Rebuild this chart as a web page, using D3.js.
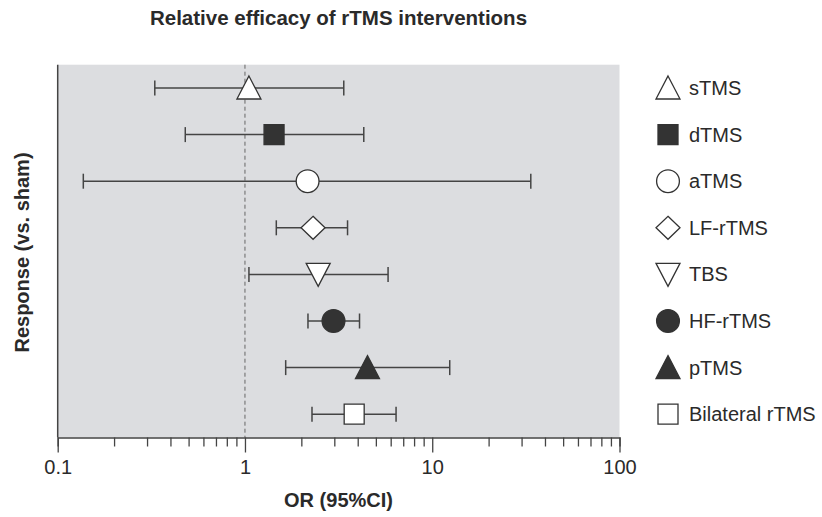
<!DOCTYPE html>
<html>
<head>
<meta charset="utf-8">
<script src="https://cdn.jsdelivr.net/npm/d3@7"></script>
<style>
  body { margin: 0; background: #fff; }
  svg { font-family: "Liberation Sans", Arial, Helvetica, sans-serif; }
</style>
</head>
<body>
<svg id="chart" width="822" height="517"></svg>
<script>
// Data
const treatments = ["sTMS", "dTMS", "aTMS", "LF-rTMS", "TBS", "HF-rTMS", "pTMS", "Bilateral rTMS"];
const oddsRatio = [1.05, 1.43, 2.16, 2.31, 2.46, 2.97, 4.51, 3.83];
const ciLower = [0.33, 0.48, 0.137, 1.47, 1.05, 2.17, 1.65, 2.28];
const ciUpper = [3.37, 4.31, 33.6, 3.53, 5.81, 4.09, 12.4, 6.41];
const markerShapes = ["triUp", "square", "circle", "diamond", "triDown", "circle", "triUp", "square"];
const markerFilled = [false, true, false, false, false, true, true, false];
const majorTicks = [0.1, 1, 10, 100];

const svg = d3.select("#chart");
const dark = "#333333";
const lineCol = "#444444";

const margin = { left: 57.7, right: 619.5, top: 64.7, bottom: 437.5 };

const x = d3.scaleLog().domain([0.1, 100]).range([margin.left, margin.right]);
const y = d3.scalePoint().domain(treatments).range([margin.top, margin.bottom]).padding(0.5);

// Function to build a marker path around (0,0)
function markerPath(shape) {
    const p = d3.path();
    if (shape === "triUp") {
        p.moveTo(0, -12); p.lineTo(12, 11); p.lineTo(-12, 11); p.closePath();
    } else if (shape === "triDown") {
        p.moveTo(0, 12); p.lineTo(12, -11); p.lineTo(-12, -11); p.closePath();
    } else if (shape === "square") {
        p.rect(-10, -10, 20, 20);
    } else if (shape === "circle") {
        p.arc(0, 0, 11.4, 0, 2 * Math.PI);
    } else if (shape === "diamond") {
        p.moveTo(0, -11.5); p.lineTo(12, 0); p.lineTo(0, 11.5); p.lineTo(-12, 0); p.closePath();
    }
    return p.toString();
}

// Plot background
svg.append("rect")
    .attr("x", margin.left)
    .attr("y", margin.top)
    .attr("width", margin.right - margin.left)
    .attr("height", margin.bottom - margin.top)
    .attr("fill", "#dcdde0");

// Reference line at OR = 1
svg.append("line")
    .attr("x1", x(1)).attr("x2", x(1))
    .attr("y1", margin.top).attr("y2", margin.bottom)
    .attr("stroke", "#666")
    .attr("stroke-width", 1)
    .attr("stroke-dasharray", "4,3");

// Bottom axis with minor ticks
const allTicks = [];
[0.1, 1, 10].forEach(d => {
    for (let k = 1; k < 10; k++) allTicks.push(+(d * k).toPrecision(3));
});
allTicks.push(100);

const xAxis = svg.append("g")
    .attr("transform", `translate(0,${margin.bottom})`)
    .call(d3.axisBottom(x)
        .tickValues(allTicks)
        .tickSize(9)
        .tickPadding(13)
        .tickFormat(d => majorTicks.includes(d) ? d3.format("")(d) : ""));

xAxis.select(".domain").attr("stroke", lineCol).attr("stroke-width", 1.5);
xAxis.selectAll(".tick line")
    .attr("stroke", lineCol)
    .attr("stroke-width", 1.3)
    .attr("y2", d => majorTicks.includes(d) ? 15 : 9);
xAxis.selectAll(".tick text")
    .attr("fill", "#2a2a2a")
    .style("font-size", "20px")
    .style("font-family", "'Liberation Sans', Arial, sans-serif");

// Left axis line
svg.append("line")
    .attr("x1", margin.left).attr("x2", margin.left)
    .attr("y1", margin.top).attr("y2", margin.bottom)
    .attr("stroke", lineCol)
    .attr("stroke-width", 1.5);

// Error bars
const rows = svg.selectAll(".row")
    .data(treatments)
    .enter()
    .append("g")
    .attr("class", "row");

rows.append("line")
    .attr("x1", (d, i) => x(ciLower[i]))
    .attr("x2", (d, i) => x(ciUpper[i]))
    .attr("y1", d => y(d))
    .attr("y2", d => y(d))
    .attr("stroke", lineCol)
    .attr("stroke-width", 1.5);

[ciLower, ciUpper].forEach(ci => {
    rows.append("line")
        .attr("x1", (d, i) => x(ci[i]))
        .attr("x2", (d, i) => x(ci[i]))
        .attr("y1", d => y(d) - 7.5)
        .attr("y2", d => y(d) + 7.5)
        .attr("stroke", lineCol)
        .attr("stroke-width", 1.5);
});

// Point estimates
rows.append("path")
    .attr("d", (d, i) => markerPath(markerShapes[i]))
    .attr("transform", (d, i) => `translate(${x(oddsRatio[i])},${y(d)})`)
    .attr("fill", (d, i) => markerFilled[i] ? dark : "#fff")
    .attr("stroke", dark)
    .attr("stroke-width", 1.3);

// Legend
const legend = svg.selectAll(".legend")
    .data(treatments)
    .enter()
    .append("g")
    .attr("class", "legend")
    .attr("transform", d => `translate(668,${y(d)})`);

legend.append("path")
    .attr("d", (d, i) => markerPath(markerShapes[i]))
    .attr("fill", (d, i) => markerFilled[i] ? dark : "#fff")
    .attr("stroke", dark)
    .attr("stroke-width", 1.3);

legend.append("text")
    .attr("x", 21)
    .attr("dy", "0.35em")
    .attr("fill", "#2a2a2a")
    .style("font-size", "20px")
    .text(d => d);

// Titles
svg.append("text")
    .attr("x", 338.5)
    .attr("y", 25)
    .attr("text-anchor", "middle")
    .attr("fill", "#2a2a2a")
    .style("font-size", "20.5px")
    .style("font-weight", "bold")
    .text("Relative efficacy of rTMS interventions");

svg.append("text")
    .attr("x", 338.5)
    .attr("y", 507)
    .attr("text-anchor", "middle")
    .attr("fill", "#2a2a2a")
    .style("font-size", "20px")
    .style("font-weight", "bold")
    .text("OR (95%CI)");

svg.append("text")
    .attr("transform", "translate(29,252.5) rotate(-90)")
    .attr("text-anchor", "middle")
    .attr("fill", "#2a2a2a")
    .style("font-size", "20px")
    .style("font-weight", "bold")
    .text("Response (vs. sham)");
</script>
</body>
</html>
